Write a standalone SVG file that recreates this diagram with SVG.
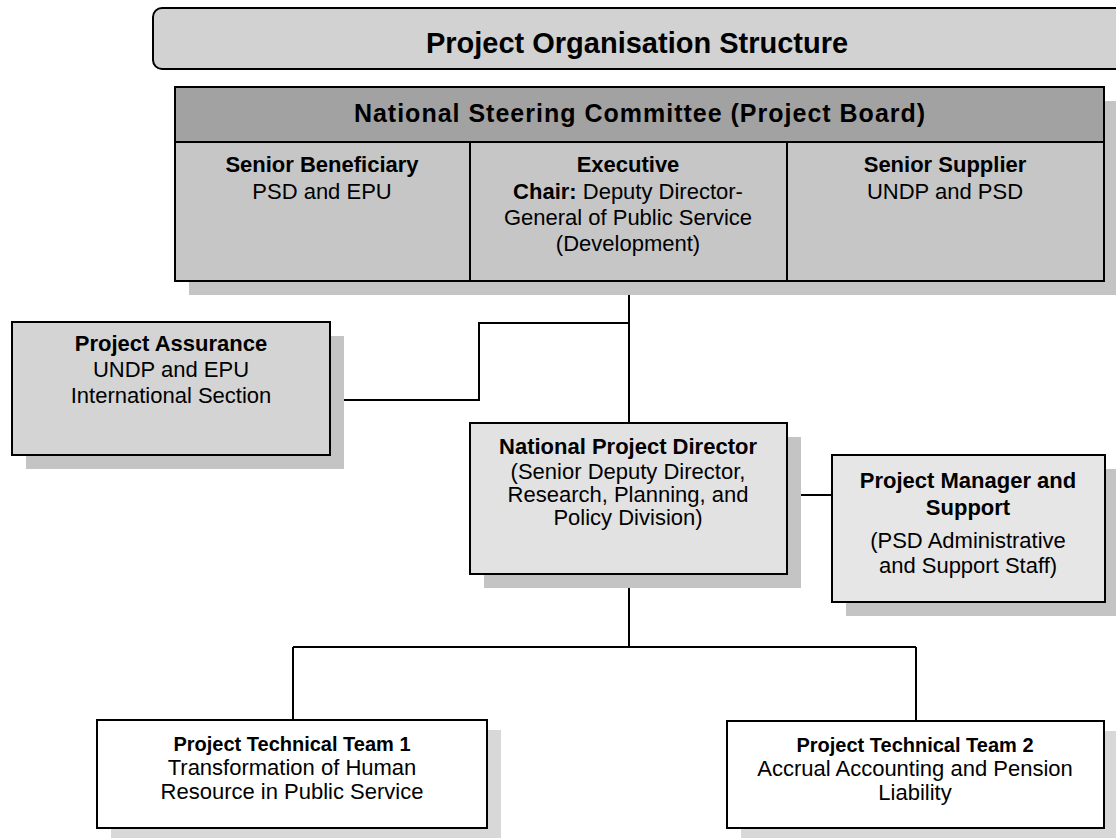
<svg xmlns="http://www.w3.org/2000/svg" width="1116" height="840" viewBox="0 0 1116 840">
  <style>
    text { font-family: "Liberation Sans", Arial, sans-serif; fill: #000; text-anchor: middle; }
    .b { font-weight: bold; font-size: 22px; }
    .r { font-size: 22px; }
    .tb { font-weight: bold; font-size: 20px; }
    .box { stroke: #000; stroke-width: 2; }
    .shadow { fill: #c4c4c4; }
    .conn { fill: none; stroke: #000; stroke-width: 2; }
  </style>

  <rect width="1116" height="840" fill="#fff"/>

  <!-- connectors, drawn first so node shadows sit over them -->
  <g id="connectors" class="conn">
    <path d="M629,281 V423"/>
    <path d="M330,400 H479 V323 H629"/>
    <path d="M787,495 H832"/>
    <path d="M629,574 V647"/>
    <path d="M293,647 H916"/>
    <path d="M293,647 V720"/>
    <path d="M916,647 V721"/>
  </g>

  <!-- heading banner -->
  <g id="title">
    <rect x="153" y="8" width="990" height="61" rx="9" fill="#d2d2d2" class="box"/>
    <text x="637" y="53" style="font-weight:bold;font-size:29px">Project Organisation Structure</text>
  </g>

  <!-- project board -->
  <g id="board">
    <rect x="189" y="101" width="929" height="194" class="shadow"/>
    <rect x="175" y="87" width="929" height="194" fill="#c6c6c6" class="box"/>
    <rect x="175" y="87" width="929" height="55" fill="#a2a2a2" class="box"/>
    <line x1="470" y1="142" x2="470" y2="281" class="box"/>
    <line x1="787" y1="142" x2="787" y2="281" class="box"/>
    <text x="640" y="122" style="font-weight:bold;font-size:25px;letter-spacing:1px">National Steering Committee (Project Board)</text>
  </g>

  <g id="senior-beneficiary">
    <text x="322" y="172" class="b">Senior Beneficiary</text>
    <text x="322" y="199" class="r">PSD and EPU</text>
  </g>

  <g id="executive">
    <text x="628" y="172" class="b">Executive</text>
    <text x="628" y="199" class="r"><tspan font-weight="bold">Chair:</tspan> Deputy Director-</text>
    <text x="628" y="225" class="r">General of Public Service</text>
    <text x="628" y="251" class="r">(Development)</text>
  </g>

  <g id="senior-supplier">
    <text x="945" y="172" class="b">Senior Supplier</text>
    <text x="945" y="199" class="r">UNDP and PSD</text>
  </g>

  <g id="project-assurance">
    <rect x="26" y="336" width="318" height="133" class="shadow"/>
    <rect x="12" y="322" width="318" height="133" fill="#d4d4d4" class="box"/>
    <text x="171" y="351" class="b">Project Assurance</text>
    <text x="171" y="377" class="r">UNDP and EPU</text>
    <text x="171" y="403" class="r">International Section</text>
  </g>

  <g id="national-project-director">
    <rect x="484" y="437" width="317" height="151" class="shadow"/>
    <rect x="470" y="423" width="317" height="151" fill="#e2e2e2" class="box"/>
    <text x="628" y="454" class="b">National Project Director</text>
    <text x="628" y="479" class="r">(Senior Deputy Director,</text>
    <text x="628" y="502" class="r">Research, Planning, and</text>
    <text x="628" y="525" class="r">Policy Division)</text>
  </g>

  <g id="project-manager">
    <rect x="846" y="469" width="273" height="147" class="shadow"/>
    <rect x="832" y="455" width="273" height="147" fill="#e6e6e6" class="box"/>
    <text x="968" y="488" class="b">Project Manager and</text>
    <text x="968" y="515" class="b">Support</text>
    <text x="968" y="548" class="r">(PSD Administrative</text>
    <text x="968" y="573" class="r">and Support Staff)</text>
  </g>

  <g id="technical-team-1">
    <rect x="111" y="730" width="390" height="108" fill="#d8d8d8"/>
    <rect x="97" y="720" width="390" height="108" fill="#fff" class="box"/>
    <text x="292" y="751" class="tb">Project Technical Team 1</text>
    <text x="292" y="775" class="r">Transformation of Human</text>
    <text x="292" y="799" class="r">Resource in Public Service</text>
  </g>

  <g id="technical-team-2">
    <rect x="741" y="731" width="377" height="107" fill="#d8d8d8"/>
    <rect x="727" y="721" width="377" height="107" fill="#fff" class="box"/>
    <text x="915" y="752" class="tb">Project Technical Team 2</text>
    <text x="915" y="776" class="r">Accrual Accounting and Pension</text>
    <text x="915" y="800" class="r">Liability</text>
  </g>
</svg>
